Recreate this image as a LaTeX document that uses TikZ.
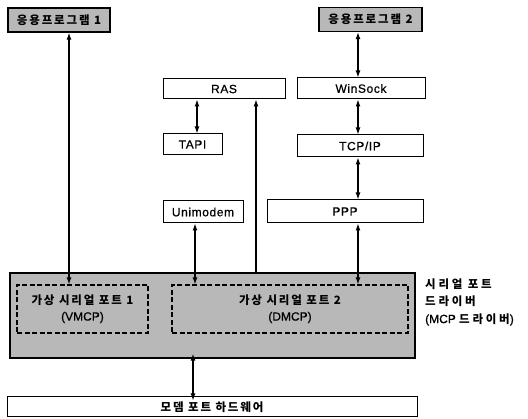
\documentclass[tikz,border=0pt]{standalone}
\usepackage{fontspec}
\setmainfont{Liberation Sans}[LetterSpace=5, FakeBold=0.7]
\newfontfamily\lat{Liberation Sans}[FakeBold=0.7]
\newfontfamily\kr{Noto Sans CJK KR}[LetterSpace=16]
\newfontfamily\krw{Noto Sans CJK KR}[LetterSpace=24]
\usetikzlibrary{arrows.meta}
\begin{document}
\begin{tikzpicture}[x=1pt,y=-1pt,
  box/.style={draw, line width=1pt, inner sep=0pt, fill=white, font=\fontsize{12}{14}\selectfont},
  graybox/.style={box, fill=black!28, line width=1.3pt},
  dbox/.style={draw, line width=1.1pt, dash pattern=on 5pt off 2.5pt, inner sep=0pt, align=center, font=\fontsize{11.5}{16}\selectfont},
  arr/.style={line width=1.2pt, {Latex[length=7pt,width=5pt]}-{Latex[length=7pt,width=5pt]}},
  arrone/.style={line width=1.1pt, -{Latex[length=7pt,width=5pt]}}
]
\useasboundingbox (0,0) rectangle (528,419);
% top applications
\node[graybox, minimum width=102pt, minimum height=24pt, font=\fontsize{11.5}{14}\selectfont] (app1) at (59,20) {\kr\bfseries 응용프로그램 1};
\node[graybox, minimum width=103pt, minimum height=24pt, font=\fontsize{11.5}{14}\selectfont] (app2) at (370.5,19.5) {\kr\bfseries 응용프로그램 2};
% middle boxes
\node[box, minimum width=122pt, minimum height=20pt] (ras) at (224,89) {RAS};
\node[box, minimum width=128pt, minimum height=21pt] (winsock) at (361,88.5) {WinSock};
\node[box, minimum width=59pt, minimum height=21pt] (tapi) at (192.5,144.5) {TAPI};
\node[box, minimum width=126pt, minimum height=22pt] (tcpip) at (360,146) {TCP/IP};
\node[box, minimum width=80pt, minimum height=22pt] (unimodem) at (203,212) {Unimodem};
\node[box, minimum width=156pt, minimum height=23pt] (ppp) at (345,211.5) {PPP};
% serial driver
\node[graybox, minimum width=405pt, minimum height=85pt] (drv) at (212.5,315.5) {};
\node[dbox, minimum width=131pt, minimum height=48pt] (dash1) at (82.5,309) {{\kr\bfseries 가상 시리얼 포트 1}\\{\lat\fontsize{12}{16}\selectfont (VMCP)}};
\node[dbox, minimum width=236pt, minimum height=48pt] (dash2) at (290,309) {{\kr\bfseries 가상 시리얼 포트 2}\\{\lat\fontsize{12}{16}\selectfont (DMCP)}};
\node[anchor=west, align=left, inner sep=0pt, font=\fontsize{11.5}{17.5}\selectfont] (drvlabel) at (425,302) {{\krw\bfseries 시리얼 포트}\\{\krw\bfseries 드라이버}\\{\lat\fontsize{12}{17.5}\selectfont (MCP }{\krw\bfseries 드라이버}{\lat\fontsize{12}{17.5}\selectfont )}};
% modem hardware
\node[box, minimum width=410pt, minimum height=20pt, font=\fontsize{11.5}{14}\selectfont] (modem) at (212,407) {\kr\bfseries 모뎀 포트 하드웨어};
% x positions
\coordinate (xa) at (69,0);
\coordinate (xb) at (358,0);
\coordinate (xc) at (197,0);
\coordinate (xd) at (195,0);
\coordinate (xe) at (256,0);
\coordinate (xf) at (193,0);
% connectors
\draw[arr] (app1.south -| xa) -- (dash1.north -| xa);
\draw[arr] (app2.south -| xb) -- (winsock.north -| xb);
\draw[arr] (winsock.south -| xb) -- (tcpip.north -| xb);
\draw[arr] (tcpip.south -| xb) -- (ppp.north -| xb);
\draw[arr] (ppp.south -| xb) -- (dash2.north -| xb);
\draw[arr] (ras.south -| xc) -- (tapi.north -| xc);
\draw[arr] (unimodem.south -| xd) -- (dash2.north -| xd);
\draw[arrone] (drv.north -| xe) -- (ras.south -| xe);
\draw[arr] ([yshift=5pt]drv.south -| xf) -- ([yshift=-4pt]modem.north -| xf);
\end{tikzpicture}
\end{document}
